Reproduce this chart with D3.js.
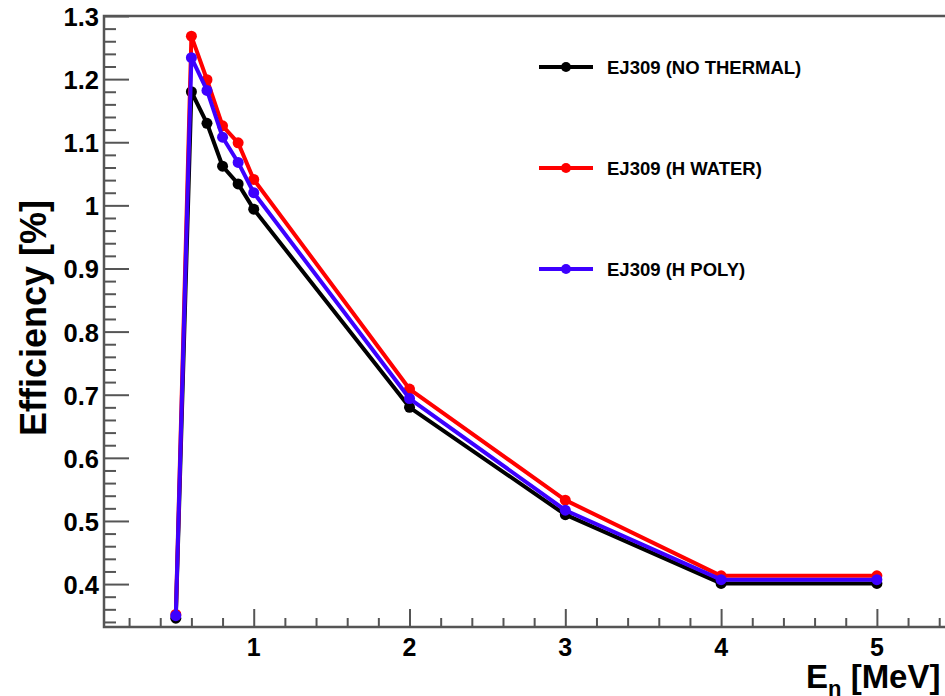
<!DOCTYPE html>
<html>
<head>
<meta charset="utf-8">
<script src="https://cdn.jsdelivr.net/npm/d3@7"></script>
<style>
  body { margin: 0; background: #fff; }
  svg { display: block; font-family: "Liberation Sans", Arial, Helvetica, sans-serif; font-weight: bold; }
</style>
</head>
<body>
<svg id="chart" width="945" height="696"></svg>
<script>
var energies = [0.5, 0.6, 0.7, 0.8, 0.9, 1, 2, 3, 4, 5]
var noThermal = [0.346, 1.180, 1.130, 1.062, 1.034, 0.994, 0.680, 0.510, 0.401, 0.401]
var hWater = [0.352, 1.268, 1.199, 1.126, 1.099, 1.041, 0.709, 0.533, 0.413, 0.413]
var hPoly = [0.350, 1.234, 1.182, 1.108, 1.068, 1.020, 0.694, 0.517, 0.407, 0.407]
var seriesNames = ['EJ309 (NO THERMAL)', 'EJ309 (H WATER)', 'EJ309 (H POLY)']
var seriesColors = ['#000000', '#ff0000', '#3d00ff']
var xTickValues = [1, 2, 3, 4, 5]
var yTickValues = [0.4, 0.5, 0.6, 0.7, 0.8, 0.9, 1, 1.1, 1.2, 1.3]

var svg = d3.select('#chart')
var width = 945, height = 696
var margin = ({top: 16, right: -2, bottom: 69, left: 104})

var x = d3.scaleLinear()
    .domain([0.039, 5.45])
    .range([margin.left, width - margin.right])

var y = d3.scaleLinear()
    .domain([0.332, 1.3])
    .range([height - margin.bottom, margin.top])

var axisColor = '#555'

// minor ticks
var xMinor = d3.range(0.2, 5.45, 0.2).filter(v => Math.abs(v - Math.round(v)) > 0.01)
var yMinor = d3.range(0.34, 1.295, 0.02).filter(v => Math.abs(v * 10 - Math.round(v * 10)) > 0.01)

var xAxis = g => g
    .attr("transform", `translate(0,${y.range()[0]})`)
    .call(d3.axisTop(x).tickValues(xTickValues).tickSize(18).tickFormat(''))
    .call(g => g.select('.domain').remove())

var xAxisMinor = g => g
    .attr("transform", `translate(0,${y.range()[0]})`)
    .call(d3.axisTop(x).tickValues(xMinor).tickSize(9).tickFormat(''))
    .call(g => g.select('.domain').remove())

var yAxis = g => g
    .attr("transform", `translate(${margin.left},0)`)
    .call(d3.axisRight(y).tickValues(yTickValues).tickSize(25).tickFormat(''))
    .call(g => g.select('.domain').remove())

var yAxisMinor = g => g
    .attr("transform", `translate(${margin.left},0)`)
    .call(d3.axisRight(y).tickValues(yMinor).tickSize(12).tickFormat(''))
    .call(g => g.select('.domain').remove())

svg.append('g').call(xAxis)
svg.append('g').call(xAxisMinor)
svg.append('g').call(yAxis)
svg.append('g').call(yAxisMinor)
svg.selectAll('.tick line').attr('stroke', axisColor).attr('stroke-width', 2)

// frame: left, bottom, top
svg.append('path')
    .attr('d', `M${x.range()[1]},${y.range()[1]}H${margin.left}V${y.range()[0]}H${x.range()[1]}`)
    .attr('fill', 'none')
    .attr('stroke', axisColor)
    .attr('stroke-width', 2.5)

// tick labels
svg.append('g').selectAll('text').data(xTickValues)
    .enter().append('text')
    .attr('x', d => x(d))
    .attr('y', 656)
    .attr('text-anchor', 'middle')
    .attr('font-size', '25px')
    .attr('fill', '#000')
    .text(d => d)

svg.append('g').selectAll('text').data(yTickValues)
    .enter().append('text')
    .attr('x', margin.left - 5)
    .attr('y', d => y(d) + 10)
    .attr('text-anchor', 'end')
    .attr('font-size', '25.5px')
    .attr('fill', '#000')
    .text(d => d3.format('~g')(d))

// axis titles
svg.append('text')
    .attr('transform', 'translate(46,318) rotate(-90)')
    .attr('text-anchor', 'middle')
    .attr('font-size', '36px')
    .attr('fill', '#000')
    .text('Efficiency [%]')

var xTitle = svg.append('text')
    .attr('x', 806)
    .attr('y', 688)
    .attr('font-size', '33px')
    .attr('fill', '#000')
xTitle.append('tspan').text('E')
xTitle.append('tspan').attr('font-size', '22px').attr('dy', 8).text('n')
xTitle.append('tspan').attr('dy', -8).text(' [MeV]')

// series
var allSeries = [noThermal, hWater, hPoly].map((vals, i) => ({
    name: seriesNames[i],
    color: seriesColors[i],
    points: vals.map((v, j) => [energies[j], v])
}))

var line = d3.line()
    .x(d => x(d[0]))
    .y(d => y(d[1]))

var seriesG = svg.append('g').selectAll('g').data(allSeries)
    .enter().append('g')

seriesG.append('path')
    .attr('d', d => line(d.points))
    .attr('fill', 'none')
    .attr('stroke', d => d.color)
    .attr('stroke-width', 4)
    .attr('stroke-linejoin', 'round')

seriesG.selectAll('circle').data(d => d.points.map(p => ({p: p, color: d.color})))
    .enter().append('circle')
    .attr('cx', d => x(d.p[0]))
    .attr('cy', d => y(d.p[1]))
    .attr('r', 5.5)
    .attr('fill', d => d.color)

// legend
var legendRows = [67, 168, 269]
var legend = svg.append('g').selectAll('g').data(allSeries)
    .enter().append('g')
    .attr('transform', (d, i) => `translate(0,${legendRows[i]})`)

legend.append('line')
    .attr('x1', 539).attr('x2', 593)
    .attr('stroke', d => d.color)
    .attr('stroke-width', 4)
legend.append('circle')
    .attr('cx', 566)
    .attr('r', 5)
    .attr('fill', d => d.color)
legend.append('text')
    .attr('x', 607)
    .attr('y', 6.5)
    .attr('font-size', '18.5px')
    .attr('fill', '#000')
    .text(d => d.name)
</script>
</body>
</html>
